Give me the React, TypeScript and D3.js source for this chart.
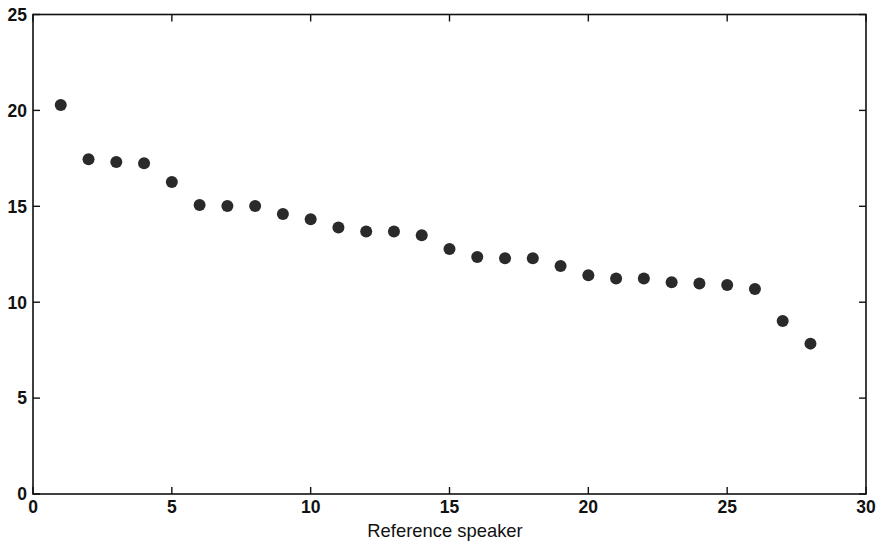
import React from "react";
import * as d3 from "d3";

const speakers = [1, 2, 3, 4, 5, 6, 7, 8, 9, 10, 11, 12, 13, 14, 15, 16, 17, 18, 19, 20, 21, 22, 23, 24, 25, 26, 27, 28];
const scores = [20.28, 17.45, 17.31, 17.24, 16.27, 15.07, 15.02, 15.02, 14.6, 14.32, 13.9, 13.68, 13.68, 13.49, 12.77, 12.36, 12.29, 12.29, 11.89, 11.4, 11.23, 11.23, 11.04, 10.97, 10.9, 10.69, 9.02, 7.84];
const xTicks = [0, 5, 10, 15, 20, 25, 30];
const yTicks = [0, 5, 10, 15, 20, 25];
const xLabel = "Reference speaker";

const W = 877;
const H = 543;
const M = { left: 33, right: 11, top: 14.5, bottom: 49 };

export default function App() {
  const x = d3.scaleLinear().domain([0, 30]).range([M.left, W - M.right]);
  const y = d3.scaleLinear().domain([0, 25]).range([H - M.bottom, M.top]);
  const [x0, x1] = x.range();
  const [yb, yt] = y.range();
  const tick = 7;
  const font = "'Liberation Sans', Arial, sans-serif";

  return (
    <svg
      width={W}
      height={H}
      style={{ position: "absolute", left: 0, top: 0, background: "#fff" }}
      fontFamily={font}
    >
      {/* frame */}
      <rect x={x0} y={yt} width={x1 - x0} height={yb - yt} fill="none" stroke="#111" strokeWidth={1.6} />
      {/* x ticks (bottom and mirrored top) */}
      {xTicks.map((t) => (
        <g key={"x" + t}>
          <line x1={x(t)} x2={x(t)} y1={yb} y2={yb - tick} stroke="#111" strokeWidth={1.4} />
          <line x1={x(t)} x2={x(t)} y1={yt} y2={yt + tick} stroke="#111" strokeWidth={1.4} />
          <text x={x(t)} y={yb + 19} textAnchor="middle" fontSize={17.5} fontWeight="bold" fill="#111">
            {t}
          </text>
        </g>
      ))}
      {/* y ticks (left and mirrored right) */}
      {yTicks.map((t) => (
        <g key={"y" + t}>
          <line x1={x0} x2={x0 + tick} y1={y(t)} y2={y(t)} stroke="#111" strokeWidth={1.4} />
          <line x1={x1} x2={x1 - tick} y1={y(t)} y2={y(t)} stroke="#111" strokeWidth={1.4} />
          <text x={27} y={y(t)} dy="0.36em" textAnchor="end" fontSize={17.5} fontWeight="bold" fill="#111">
            {t}
          </text>
        </g>
      ))}
      {/* points */}
      {speakers.map((s, i) => (
        <circle key={s} cx={x(s)} cy={y(scores[i])} r={6} fill="#2a2a2a" />
      ))}
      <text x={445} y={536.5} textAnchor="middle" fontSize={18.4} fill="#111">
        {xLabel}
      </text>
    </svg>
  );
}
